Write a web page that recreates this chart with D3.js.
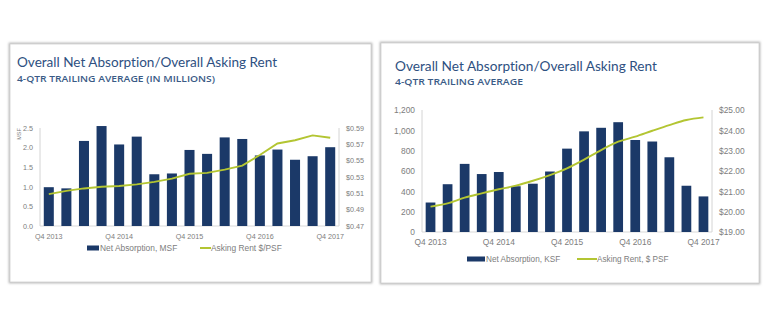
<!DOCTYPE html>
<html>
<head>
<meta charset="utf-8">
<script src="https://cdn.jsdelivr.net/npm/d3@7"></script>
<style>
  html, body { margin: 0; padding: 0; background: #ffffff; }
  svg { display: block; }
  .title { font-family: "Lato", "Open Sans", sans-serif; fill: #2e5081; font-variant-ligatures: none; }
  .sub { font-family: "Open Sans", "Lato", sans-serif; fill: #3a5b86; font-weight: 600; }
  .tick text, .lbl { font-family: "Liberation Sans", Arial, sans-serif; fill: #7d7d7d; }
</style>
</head>
<body>
<svg id="chart" width="768" height="327"></svg>
<script>
// Quarters shared by both panels
const quarters = [
  "Q4 2013", "Q1 2014", "Q2 2014", "Q3 2014", "Q4 2014",
  "Q1 2015", "Q2 2015", "Q3 2015", "Q4 2015",
  "Q1 2016", "Q2 2016", "Q3 2016", "Q4 2016",
  "Q1 2017", "Q2 2017", "Q3 2017", "Q4 2017"
];
const tickQuarters = ["Q4 2013", "Q4 2014", "Q4 2015", "Q4 2016", "Q4 2017"];

// Left panel: net absorption (MSF) and asking rent ($/PSF)
const leftAbsorption = [0.99, 0.96, 2.17, 2.55, 2.08, 2.28, 1.32, 1.34, 1.94, 1.84, 2.26, 2.22, 1.80, 1.95, 1.69, 1.78, 2.01];
const leftRent = [0.509, 0.513, 0.516, 0.518, 0.519, 0.521, 0.524, 0.528, 0.534, 0.535, 0.539, 0.544, 0.557, 0.571, 0.575, 0.581, 0.578];
const leftBarTicks = [0.0, 0.5, 1.0, 1.5, 2.0, 2.5];
const leftRentTicks = [0.47, 0.49, 0.51, 0.53, 0.55, 0.57, 0.59];

// Right panel: net absorption (KSF) and asking rent ($ PSF)
const rightAbsorption = [290, 470, 670, 570, 590, 450, 475, 595, 820, 990, 1025, 1080, 905, 890, 735, 455, 350];
const rightRent = [20.25, 20.41, 20.69, 20.90, 21.10, 21.28, 21.52, 21.80, 22.13, 22.56, 23.03, 23.44, 23.69, 23.98, 24.26, 24.51, 24.64];
const rightBarTicks = [0, 200, 400, 600, 800, 1000, 1200];
const rightRentTicks = [19, 20, 21, 22, 23, 24, 25];

const BAR = "#1b3968";
const LINE = "#b3c532";

const svg = d3.select("#chart");

// soft frame shadow
const defs = svg.append("defs");
const f = defs.append("filter").attr("id", "shadow").attr("x", "-5%").attr("y", "-5%").attr("width", "110%").attr("height", "110%");
f.append("feGaussianBlur").attr("in", "SourceGraphic").attr("stdDeviation", 1.1);

function panel(cfg) {
  const g = svg.append("g");

  // frame
  g.append("rect")
    .attr("x", cfg.frame[0]).attr("y", cfg.frame[1])
    .attr("width", cfg.frame[2]).attr("height", cfg.frame[3])
    .attr("fill", "none").attr("stroke", "#b5b5b5").attr("stroke-width", 2.6)
    .attr("filter", "url(#shadow)");
  g.append("rect")
    .attr("x", cfg.frame[0]).attr("y", cfg.frame[1])
    .attr("width", cfg.frame[2]).attr("height", cfg.frame[3])
    .attr("fill", "#ffffff").attr("stroke", "#d0d0d0").attr("stroke-width", 0.8);

  g.append("text").attr("class", "title")
    .attr("x", cfg.titleX).attr("y", cfg.titleY)
    .attr("font-size", 13.4).attr("textLength", cfg.titleW).attr("lengthAdjust", "spacingAndGlyphs")
    .text("Overall Net Absorption/Overall Asking Rent");
  g.append("text").attr("class", "sub")
    .attr("x", cfg.titleX).attr("y", cfg.subY)
    .attr("font-size", 9.4).attr("textLength", cfg.subW).attr("lengthAdjust", "spacingAndGlyphs")
    .text(cfg.subtitle);

  const x = d3.scaleBand().domain(quarters).range([cfg.x0, cfg.x1]).paddingInner(0.43).paddingOuter(0.215);
  const yb = d3.scaleLinear().domain(cfg.barDomain).range([cfg.yBottom, cfg.yTop]);
  const yr = d3.scaleLinear().domain(cfg.rentDomain).range([cfg.yBottom, cfg.yTop]);

  // axis lines
  g.append("line").attr("x1", cfg.x0).attr("x2", cfg.x0).attr("y1", cfg.yTop).attr("y2", cfg.yBottom)
    .attr("stroke", "#d4d4d4").attr("stroke-width", 1);
  g.append("line").attr("x1", cfg.x1).attr("x2", cfg.x1).attr("y1", cfg.yTop).attr("y2", cfg.yBottom)
    .attr("stroke", "#d4d4d4").attr("stroke-width", 1);
  g.append("line").attr("x1", cfg.x0).attr("x2", cfg.x1).attr("y1", cfg.yBottom).attr("y2", cfg.yBottom)
    .attr("stroke", "#d9d9d9").attr("stroke-width", 1);

  // bars
  g.append("g").selectAll("rect").data(cfg.bars).join("rect")
    .attr("x", (d, i) => x(quarters[i]))
    .attr("width", x.bandwidth())
    .attr("y", d => yb(d))
    .attr("height", d => yb(cfg.barDomain[0]) - yb(d))
    .attr("fill", BAR);

  // rent line
  const line = d3.line()
    .x((d, i) => x(quarters[i]) + x.bandwidth() / 2)
    .y(d => yr(d))
    .curve(cfg.curve);
  g.append("path").datum(cfg.rent)
    .attr("d", line).attr("fill", "none").attr("stroke", LINE).attr("stroke-width", 1.9);

  // left axis labels
  const la = d3.axisLeft(yb).tickValues(cfg.barTicks).tickSize(0).tickPadding(cfg.labelPad).tickFormat(cfg.barFmt);
  const lg = g.append("g").attr("transform", `translate(${cfg.x0},0)`).call(la);
  lg.select(".domain").remove();
  lg.selectAll("text").attr("font-size", cfg.tickFont);

  // right axis labels
  const ra = d3.axisRight(yr).tickValues(cfg.rentTicks).tickSize(0).tickPadding(cfg.labelPad).tickFormat(cfg.rentFmt);
  const rg = g.append("g").attr("transform", `translate(${cfg.x1},0)`).call(ra);
  rg.select(".domain").remove();
  rg.selectAll("text").attr("font-size", cfg.tickFont);

  // quarter labels
  const ba = d3.axisBottom(x).tickValues(tickQuarters).tickSize(0).tickPadding(cfg.xPad);
  const bg = g.append("g").attr("transform", `translate(0,${cfg.yBottom})`).call(ba);
  bg.select(".domain").remove();
  bg.selectAll("text").attr("font-size", cfg.tickFont);

  if (cfg.yTitle) {
    g.append("text").attr("class", "lbl")
      .attr("transform", `translate(${cfg.yTitle[0]},${cfg.yTitle[1]}) rotate(-90)`)
      .attr("text-anchor", "middle").attr("font-size", 5.5).text("MSF");
  }

  // legend
  const L = cfg.legend;
  g.append("rect").attr("x", L.bx).attr("y", L.y - 2.5).attr("width", L.bw).attr("height", 5).attr("fill", BAR);
  g.append("text").attr("class", "lbl").attr("x", L.bx + L.bw + 1).attr("y", L.y + 3.2)
    .attr("font-size", L.font).attr("fill", "#6f6f6f").text(L.barLabel);
  g.append("line").attr("x1", L.lx).attr("x2", L.lx + L.lw).attr("y1", L.y).attr("y2", L.y)
    .attr("stroke", LINE).attr("stroke-width", 2);
  g.append("text").attr("class", "lbl").attr("x", L.lx + L.lw).attr("y", L.y + 3.2)
    .attr("font-size", L.font).attr("fill", "#6f6f6f").text(L.lineLabel);
}

panel({
  frame: [10, 44, 361, 238],
  titleX: 17, titleY: 67, titleW: 260, subY: 82, subW: 198,
  subtitle: "4-QTR TRAILING AVERAGE (IN MILLIONS)",
  x0: 40, x1: 339, yTop: 128, yBottom: 226,
  barDomain: [0, 2.5], rentDomain: [0.47, 0.59],
  bars: leftAbsorption, rent: leftRent,
  barTicks: leftBarTicks, rentTicks: leftRentTicks,
  barFmt: d3.format(".1f"), rentFmt: d => "$" + d3.format(".2f")(d),
  curve: d3.curveLinear,
  tickFont: 7.2, labelPad: 7, xPad: 8,
  yTitle: [21, 134],
  legend: { y: 248, bx: 87, bw: 12, lx: 200, lw: 11, font: 8.4,
            barLabel: "Net Absorption, MSF", lineLabel: "Asking Rent $/PSF" }
});

panel({
  frame: [381, 43, 378, 240],
  titleX: 395, titleY: 70.5, titleW: 262, subY: 85, subW: 128,
  subtitle: "4-QTR TRAILING AVERAGE",
  x0: 422, x1: 712, yTop: 110, yBottom: 232,
  barDomain: [0, 1200], rentDomain: [19, 25],
  bars: rightAbsorption, rent: rightRent,
  barTicks: rightBarTicks, rentTicks: rightRentTicks,
  barFmt: d3.format(","), rentFmt: d => "$" + d3.format(".2f")(d),
  curve: d3.curveMonotoneX,
  tickFont: 8.4, labelPad: 7, xPad: 7,
  yTitle: null,
  legend: { y: 259, bx: 467, bw: 18, lx: 577, lw: 20, font: 8.2,
            barLabel: "Net Absorption, KSF", lineLabel: "Asking Rent, $ PSF" }
});
</script>
</body>
</html>
